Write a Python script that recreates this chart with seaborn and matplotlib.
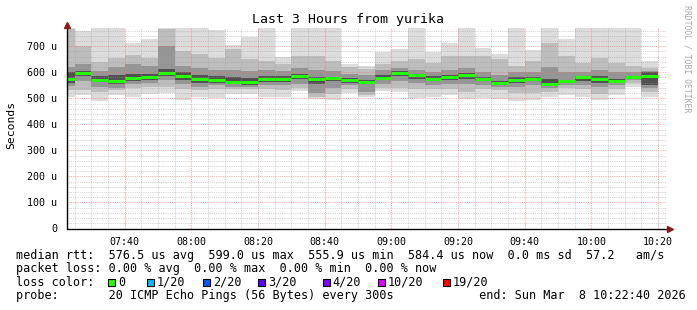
import numpy as np
import pandas as pd
import matplotlib
matplotlib.use("Agg")
import matplotlib.pyplot as plt
import matplotlib.dates as mdates
from matplotlib.ticker import MultipleLocator, FuncFormatter
from matplotlib.patches import Rectangle
import seaborn as sns

sns.set_theme(style="white")
plt.rcParams['font.family'] = ['DejaVu Sans Mono', 'DejaVu Sans']

# ---- data (round trip times in microseconds, one bar per 5 minutes) ----
bar_start = pd.date_range("2026-03-08 07:20", periods=36, freq="5min")
rtt_max = [770, 758, 770, 770, 711, 728, 770, 770, 770, 763, 705, 734,
           770, 657, 770, 770, 770, 632, 624, 677, 690, 770, 677, 714,
           770, 695, 672, 770, 687, 770, 726, 770, 770, 770, 770, 644]
rtt_p90 = [768, 700, 640, 655, 665, 655, 765, 680, 669, 656, 688, 650,
           643, 630, 662, 662, 643, 620, 612, 631, 643, 650, 637, 662,
           662, 662, 650, 624, 645, 714, 662, 637, 656, 637, 624, 615]
rtt_p75 = [620, 630, 605, 620, 630, 625, 700, 625, 615, 610, 610, 605,
           610, 605, 615, 610, 605, 595, 590, 610, 615, 610, 600, 610,
           615, 600, 590, 600, 600, 620, 600, 600, 610, 600, 600, 605]
rtt_p60 = [600, 605, 585, 590, 595, 595, 612, 600, 590, 585, 580, 578,
           585, 585, 592, 582, 583, 577, 572, 588, 603, 595, 585, 590,
           598, 580, 566, 580, 582, 575, 572, 585, 585, 575, 585, 600]
rtt_median = [574, 596, 572, 565, 578, 580, 596, 585, 573, 570, 564, 563,
              573, 573, 585, 573, 578, 570, 564, 578, 599, 588, 576, 582,
              591, 573, 559, 571, 575, 556, 567, 580, 573, 567, 583, 584]
rtt_p40 = [560, 585, 562, 555, 568, 570, 585, 572, 560, 560, 555, 553,
           562, 563, 573, 555, 565, 560, 555, 570, 585, 575, 565, 570,
           575, 565, 553, 560, 565, 548, 560, 568, 560, 558, 575, 550]
rtt_p25 = [548, 565, 545, 540, 555, 557, 570, 555, 545, 550, 545, 545,
           550, 550, 555, 520, 540, 550, 525, 555, 565, 560, 550, 555,
           555, 550, 545, 545, 550, 540, 552, 550, 545, 550, 570, 540]
rtt_p10 = [530, 530, 525, 530, 540, 545, 545, 535, 530, 535, 535, 535,
           535, 530, 540, 505, 515, 535, 512, 540, 540, 535, 535, 535,
           525, 535, 530, 520, 520, 525, 540, 535, 515, 535, 560, 525]
rtt_min = [504, 511, 491, 513, 506, 517, 519, 495, 504, 500, 518, 517,
           504, 504, 528, 496, 494, 520, 504, 528, 526, 502, 505, 514,
           497, 500, 498, 490, 494, 504, 512, 506, 494, 513, 545, 506]

y_ticks = [0, 100, 200, 300, 400, 500, 600, 700]
title = "Last 3 Hours from yurika"
legend_lines = [
    "median rtt:  576.5 us avg  599.0 us max  555.9 us min  584.4 us now  0.0 ms sd  57.2   am/s",
    "packet loss: 0.00 % avg  0.00 % max  0.00 % min  0.00 % now",
    "loss color:",
    "probe:       20 ICMP Echo Pings (56 Bytes) every 300s            end: Sun Mar  8 10:22:40 2026",
]
loss_labels = ["0", "1/20", "2/20", "3/20", "4/20", "10/20", "19/20"]
loss_colors = ["#26ff00", "#00b8ff", "#0059ff", "#5e00ff", "#7e00ff", "#dd00ff", "#ff0000"]

# ---- layout ----
W, H = 697, 310
fig = plt.figure(figsize=(W / 100, H / 100), dpi=100, facecolor="white")
px0, px1 = 67, 667
py0, py1 = 228.5, 28
ax = fig.add_axes([px0 / W, 1 - py0 / H, (px1 - px0) / W, (py0 - py1) / H])
ax.set_facecolor("white")

t_start = pd.Timestamp("2026-03-08 07:22:40")
t_end = pd.Timestamp("2026-03-08 10:22:40")
ax.set_xlim(mdates.date2num(t_start), mdates.date2num(t_end))
ax.set_ylim(0, 770)

xs = mdates.date2num(bar_start)
width = 5 / 1440
bands = [(rtt_min, rtt_max, "#dcdcdc"),
         (rtt_p10, rtt_p90, "#bdbdbd"),
         (rtt_p25, rtt_p75, "#959595"),
         (rtt_p40, rtt_p60, "#505050")]
for lo, hi, col in bands:
    lo = np.array(lo, dtype=float)
    hi = np.array(hi, dtype=float)
    ax.bar(xs, hi - lo, bottom=lo, width=width, align="edge",
           color=col, linewidth=0, zorder=1)
ax.hlines(rtt_median, xs, xs + width, colors="#26ff00", lw=2.2, zorder=3)

# ---- axes, ticks, grid ----
ax.xaxis.set_major_locator(mdates.MinuteLocator(byminute=[0, 20, 40]))
ax.xaxis.set_minor_locator(mdates.MinuteLocator(byminute=range(0, 60, 5)))
ax.xaxis.set_major_formatter(mdates.DateFormatter("%H:%M"))
ax.set_yticks(y_ticks)
ax.yaxis.set_minor_locator(MultipleLocator(20))
ax.yaxis.set_major_formatter(FuncFormatter(lambda v, p: "0" if v == 0 else f"{int(v)} u"))

ax.set_axisbelow(False)
ax.grid(which="minor", color="#a0a0a0", alpha=0.6, lw=0.6, ls=(0, (1, 1.2)))
ax.grid(which="major", color="#f07070", alpha=0.75, lw=0.6, ls=(0, (1, 1.2)))
ax.tick_params(axis="both", which="major", direction="out", length=3, width=0.8,
               labelsize=7.2, pad=3, colors="black")
ax.tick_params(axis="both", which="minor", direction="out", length=2, width=0.6,
               colors="#555555")
ax.tick_params(axis="y", which="major", pad=4)
for s in ax.spines.values():
    s.set_visible(False)

top_ext = (py0 - 25) / (py0 - py1)
right_ext = (670 - px0) / (px1 - px0)
ax.plot([0, 0], [0, top_ext], transform=ax.transAxes, color="black", lw=1, clip_on=False, zorder=5)
ax.plot([0, right_ext], [0, 0], transform=ax.transAxes, color="black", lw=1, clip_on=False, zorder=5)
ax.plot([0], [top_ext], marker="^", ms=4, color="#8b1a1a", transform=ax.transAxes, clip_on=False, zorder=6)
ax.plot([right_ext], [0], marker=">", ms=4, color="#8b1a1a", transform=ax.transAxes, clip_on=False, zorder=6)

# ---- texts ----
def fx(x):
    return x / W

def fy(y):
    return 1 - y / H

fig.text(fx(347.5), fy(19.3), title, fontsize=9.5, ha="center", va="center", color="black")
fig.text(fx(11), fy(125), "Seconds", rotation=90, fontsize=8.2, ha="center", va="center", color="black")
fig.text(fx(686.5), fy(59), "RRDTOOL / TOBI OETIKER", rotation=270, fontsize=5.9,
         ha="center", va="center", color="#aaaaaa")

legend_y = [255, 268.5, 282.3, 296]
for txt, y in zip(legend_lines, legend_y):
    fig.text(fx(16), fy(y), txt, fontsize=8.43, ha="left", va="center", color="black")

sq_x = [108.3, 146.7, 203.3, 258.3, 322.7, 377.7, 442.7]
for sx, lab, col in zip(sq_x, loss_labels, loss_colors):
    fig.add_artist(Rectangle((fx(sx), fy(282.3 + 3.5)), 7 / W, 7 / H,
                             transform=fig.transFigure, facecolor=col,
                             edgecolor="black", lw=0.8))
    fig.text(fx(sx + 9.5), fy(282.3), lab, fontsize=8.43, ha="left", va="center", color="black")

fig.savefig("out.png", dpi=100, facecolor="white")
